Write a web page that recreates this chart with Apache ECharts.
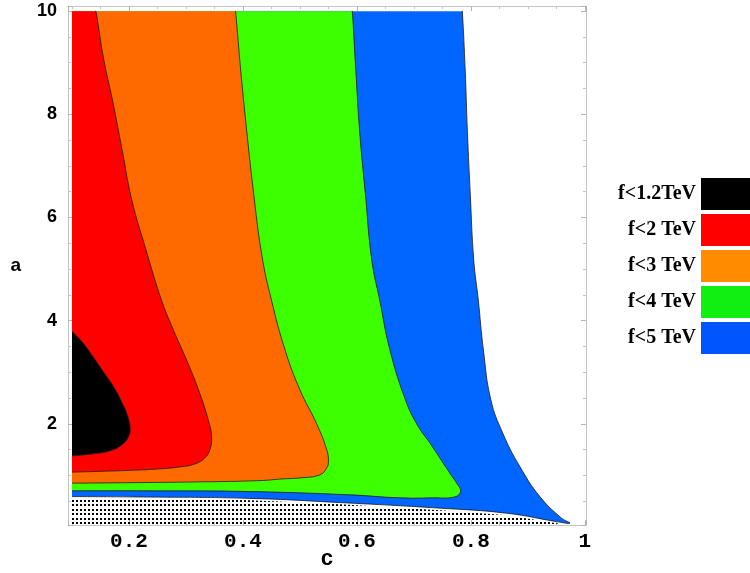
<!DOCTYPE html>
<html><head><meta charset="utf-8">
<script src="https://cdn.jsdelivr.net/npm/echarts@6/dist/echarts.min.js"></script>
<style>html,body{margin:0;padding:0;background:#fff}#chart{width:750px;height:573px}</style>
</head><body><div id="chart"></div>
<script>
// ---- tick labels ----
const xTicks = [0.2, 0.4, 0.6, 0.8, 1];
const xLabels = ['0.2', '0.4', '0.6', '0.8', '1'];
const yTicks = [2, 4, 6, 8, 10];
const yLabels = ['2', '4', '6', '8', '10'];

// ---- legend categories ----
const levels = ['f<1.2TeV', 'f<2 TeV', 'f<3 TeV', 'f<4 TeV', 'f<5 TeV'];

// ---- data range of the scan ----
const cMin = 0.1, aMax = 10, aMin = 0.06;

// ---- contour boundaries, [c, a] ----
const contour12 = [[0.1,3.79],[0.120,3.56],[0.137,3.30],[0.155,3.01],[0.173,2.72],[0.187,2.43],[0.197,2.17],[0.202,1.92],[0.199,1.75],[0.187,1.59],[0.167,1.48],[0.137,1.42],[0.1,1.38]];
const contour2 = [[0.142,10],[0.156,9.05],[0.171,8.28],[0.188,7.31],[0.205,6.34],[0.230,5.37],[0.257,4.40],[0.278,3.82],[0.301,3.24],[0.322,2.66],[0.339,2.08],[0.345,1.75],[0.342,1.50],[0.333,1.34],[0.316,1.225],[0.290,1.167],[0.254,1.128],[0.202,1.099],[0.149,1.080],[0.1,1.064]];
const contour3 = [[0.387,10],[0.396,8.86],[0.407,7.64],[0.418,6.54],[0.433,5.28],[0.450,4.40],[0.474,3.43],[0.500,2.66],[0.529,2.01],[0.547,1.50],[0.550,1.27],[0.547,1.147],[0.535,1.012],[0.500,0.953],[0.470,0.934],[0.430,0.901],[0.325,0.876],[0.202,0.860],[0.1,0.851]];
const contour4 = [[0.592,10],[0.598,8.86],[0.605,7.64],[0.615,6.44],[0.626,5.18],[0.640,4.40],[0.658,3.43],[0.685,2.47],[0.706,1.98],[0.728,1.63],[0.763,1.045],[0.777,0.818],[0.782,0.688],[0.772,0.585],[0.733,0.566],[0.675,0.566],[0.588,0.624],[0.412,0.688],[0.237,0.702],[0.1,0.702]];
const contour5 = [[0.785,10],[0.790,8.86],[0.794,7.64],[0.799,6.44],[0.805,5.18],[0.813,4.40],[0.822,3.43],[0.835,2.47],[0.856,1.82],[0.886,1.172],[0.921,0.591],[0.959,0.173],[0.974,0.076],[0.950,0.107],[0.863,0.269],[0.746,0.366],[0.570,0.475],[0.412,0.556],[0.237,0.581],[0.1,0.591]];
// upper edge of the dotted (excluded) strip
const excludedTop = [[0.1,0.562],[0.237,0.550],[0.412,0.521],[0.570,0.440],[0.746,0.328],[0.863,0.231],[0.950,0.076],[0.956,0.062]];

const plotColors = ['#000000', '#ff0000', '#ff6a00', '#3cff00', '#0066ff'];
const legendColors = ['#000000', '#ff0000', '#ff8c00', '#11ee11', '#0055ff'];

// dot pattern for the excluded strip
const patCanvas = document.createElement('canvas');
patCanvas.width = 4; patCanvas.height = 9;
const pg = patCanvas.getContext('2d');
pg.fillStyle = '#000'; pg.fillRect(0, 0, 2, 2); pg.fillRect(0, 5, 2, 2);
const dotPattern = { image: patCanvas, repeat: 'repeat' };

const SMOOTH = 0.45;

function regionSeries(name, curve, closeTopLeft, fill) {
  return {
    type: 'custom', name: name, coordinateSystem: 'cartesian2d',
    xAxisIndex: 0, yAxisIndex: 0, data: curve, silent: true, animation: false,
    itemStyle: { color: fill },
    renderItem: function (params, api) {
      if (params.dataIndex !== 0) return null;
      const line = curve.map(p => api.coord(p));
      let strokePts = line, fillPts = line;
      if (closeTopLeft) {
        // tiny lead-in along the top edge keeps the smoothed curve from bulging at the edge
        const lead = [line[0][0] - 0.5, line[0][1]];
        strokePts = [lead].concat(line);
        fillPts = [api.coord([cMin, aMax])].concat(strokePts);
      }
      return { type: 'group', children: [
        { type: 'polyline', shape: { points: fillPts, smooth: SMOOTH }, style: { fill: fill, stroke: null } },
        { type: 'polyline', shape: { points: strokePts, smooth: SMOOTH }, style: { fill: null, stroke: '#1a1a1a', lineWidth: 0.8 } }
      ] };
    }
  };
}

const dottedSeries = {
  type: 'custom', name: 'excluded', coordinateSystem: 'cartesian2d',
  xAxisIndex: 0, yAxisIndex: 0, data: excludedTop, silent: true, animation: false,
  renderItem: function (params, api) {
    if (params.dataIndex !== 0) return null;
    const last = excludedTop[excludedTop.length - 1];
    const pts = excludedTop.map(p => api.coord(p)).concat([api.coord([last[0], aMin]), api.coord([cMin, aMin])]);
    return { type: 'polygon', shape: { points: pts }, style: { fill: dotPattern, stroke: null } };
  }
};

function fmt(ticks, labels) {
  return function (v) {
    const i = ticks.findIndex(t => Math.abs(t - v) < 1e-6);
    return i >= 0 ? labels[i] : '';
  };
}

const frameLine = { show: true, onZero: false, lineStyle: { color: '#c4c4c4', width: 1 } };
const majorTick = { show: true, inside: true, length: 5, lineStyle: { color: '#b4b4b4' } };
const minorTick = { show: true, splitNumber: 4, length: 3, lineStyle: { color: '#c4c4c4' } };

const xBase = { type: 'value', min: 0.093, max: 1.002, minInterval: 0.2, maxInterval: 0.2,
  axisLine: frameLine, axisTick: majorTick, minorTick: minorTick, splitLine: { show: false } };
const yBase = { type: 'value', min: 0.04, max: 10.1, minInterval: 2, maxInterval: 2,
  axisLine: frameLine, axisTick: majorTick, minorTick: minorTick, splitLine: { show: false } };

const chart = echarts.init(document.getElementById('chart'), null, { renderer: 'canvas' });
chart.setOption({
  backgroundColor: '#ffffff',
  animation: false,
  grid: { left: 68, right: 164, top: 6, bottom: 48, containLabel: false, outerBoundsMode: 'none' },
  xAxis: [
    Object.assign({}, xBase, {
      position: 'bottom',
      axisLabel: { formatter: fmt(xTicks, xLabels), fontFamily: 'Liberation Mono', fontWeight: 'bold', fontSize: 21, color: '#000', margin: 6, showMinLabel: false, showMaxLabel: false },
      name: 'c', nameLocation: 'middle', nameGap: 23, nameMoveOverlap: false,
      nameTextStyle: { fontFamily: 'Liberation Mono', fontWeight: 'bold', fontSize: 22, color: '#000' }
    }),
    Object.assign({}, xBase, { position: 'top', axisLabel: { show: false } })
  ],
  yAxis: [
    Object.assign({}, yBase, {
      position: 'left',
      axisLabel: { formatter: fmt(yTicks, yLabels), fontFamily: 'Liberation Sans', fontWeight: 'bold', fontSize: 18, color: '#000', margin: 11, showMinLabel: false, showMaxLabel: false },
      name: 'a', nameLocation: 'middle', nameGap: 47, nameRotate: 0, nameMoveOverlap: false,
      nameTextStyle: { fontFamily: 'Liberation Sans', fontWeight: 'bold', fontSize: 19, color: '#000' }
    }),
    Object.assign({}, yBase, { position: 'right', axisLabel: { show: false } })
  ],
  legend: {
    orient: 'vertical', right: 0, top: 178, align: 'right', icon: 'rect', padding: 0,
    itemWidth: 49, itemHeight: 32, itemGap: 4, selectedMode: false,
    textStyle: { fontFamily: 'Liberation Serif', fontWeight: 'bold', fontSize: 20, color: '#000' },
    data: levels.map((n, i) => ({ name: n, itemStyle: { color: legendColors[i] } }))
  },
  series: [
    dottedSeries,
    regionSeries(levels[4], contour5, true, plotColors[4]),
    regionSeries(levels[3], contour4, true, plotColors[3]),
    regionSeries(levels[2], contour3, true, plotColors[2]),
    regionSeries(levels[1], contour2, true, plotColors[1]),
    regionSeries(levels[0], contour12, false, plotColors[0])
  ]
});
</script></body></html>
